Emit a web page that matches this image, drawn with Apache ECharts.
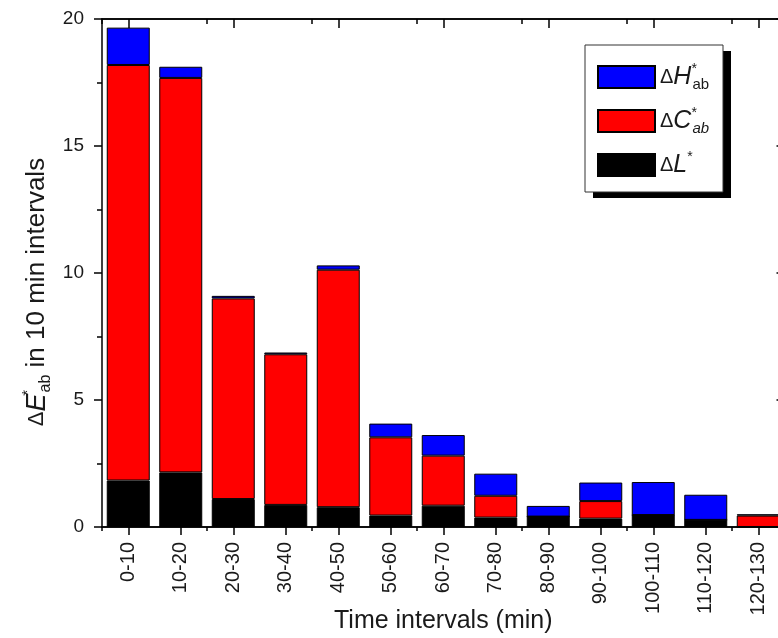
<!DOCTYPE html>
<html><head><meta charset="utf-8">
<script src="https://cdn.jsdelivr.net/npm/echarts@6/dist/echarts.min.js"></script>
<style>html,body{margin:0;padding:0;background:#fff}#c{width:778px;height:638px}</style>
</head><body><div id="c"></div>
<script>
var categories = ['0-10','10-20','20-30','30-40','40-50','50-60','60-70','70-80','80-90','90-100','100-110','110-120','120-130'];
var deltaL = [1.83, 2.15, 1.10, 0.87, 0.78, 0.45, 0.84, 0.37, 0.41, 0.33, 0.47, 0.28, 0.00];
var deltaC = [16.36, 15.53, 7.90, 5.93, 9.35, 3.08, 1.97, 0.86, 0.00, 0.69, 0.00, 0.00, 0.45];
var deltaH = [1.47, 0.44, 0.10, 0.07, 0.17, 0.54, 0.81, 0.87, 0.42, 0.73, 1.30, 0.99, 0.05];
var yTicks = {min: 0, max: 20, interval: 5};

var font = 'Liberation Sans, Arial, sans-serif';
var txt = '#1a1a1a';
var chart = echarts.init(document.getElementById('c'));

function xAx(pos, center, len, inside, labels) {
  return {
    type: 'category', data: categories, position: pos, boundaryGap: true,
    axisLine: {show: true, onZero: false, lineStyle: {color: '#000', width: 1.5}},
    axisTick: {show: true, alignWithLabel: center, length: len, inside: inside, lineStyle: {color: '#000', width: 1.5}},
    axisLabel: labels ? {show: true, rotate: 90, margin: 15, fontSize: 20, color: txt, fontFamily: font} : {show: false},
    name: labels ? 'Time intervals (min)' : '', nameLocation: 'middle', nameGap: 82, nameMoveOverlap: false,
    nameTextStyle: {fontSize: 25, color: txt, fontFamily: font},
    splitLine: {show: false}
  };
}
function yAx(pos, inside, labels) {
  return {
    type: 'value', position: pos, min: yTicks.min, max: yTicks.max, interval: yTicks.interval,
    axisLine: {show: true, lineStyle: {color: '#000', width: 1.5}},
    axisTick: {show: true, length: 8, inside: inside, lineStyle: {color: '#000', width: 1.5}},
    minorTick: {show: true, splitNumber: 2, length: 5, lineStyle: {color: '#000', width: 1.5}},
    axisLabel: labels ? {show: true, fontSize: 19, color: txt, fontFamily: font, margin: 18} : {show: false},
    splitLine: {show: false},
    name: labels ? '{d|Δ}{e|E}{sup|*}{sub|ab}{n| in 10 min intervals}' : '',
    nameLocation: 'middle', nameGap: 48, nameRotate: 90, nameMoveOverlap: false,
    nameTextStyle: {
      color: txt, fontFamily: font, fontSize: 26, padding: [0, 38, 0, 0],
      rich: {
        d: {fontSize: 22, fontFamily: font, color: txt, lineHeight: 34, verticalAlign: 'middle'},
        e: {fontSize: 27, fontStyle: 'italic', fontFamily: font, color: txt, lineHeight: 34, verticalAlign: 'middle'},
        sup: {fontSize: 15, fontFamily: font, color: txt, lineHeight: 34, verticalAlign: 'top', width: 1},
        sub: {fontSize: 16, fontFamily: font, color: txt, lineHeight: 34, verticalAlign: 'bottom'},
        n: {fontSize: 26, fontFamily: font, color: txt, lineHeight: 34, verticalAlign: 'middle'}
      }
    }
  };
}

var legendNames = {H: '{d|Δ}{i|H}{sup|*}{sub|ab}', C: '{d|Δ}{i|C}{sup|*}{subi|ab}', L: '{d|Δ}{i|L}{sup|*}'};

function bar(name, data, color) {
  return {
    name: name, type: 'bar', stack: 'e', data: data, barWidth: 43,
    xAxisIndex: 0, yAxisIndex: 0,
    itemStyle: {color: color, borderColor: '#000', borderWidth: 1},
    emphasis: {disabled: true}
  };
}

chart.setOption({
  animation: false,
  backgroundColor: '#fff',
  grid: {left: 102, top: 19, bottom: 111, width: 682.5, containLabel: false, outerBoundsMode: 'none'},
  xAxis: [xAx('bottom', true, 8, false, true), xAx('bottom', false, 4, false, false),
          xAx('top', true, 9, true, false), xAx('top', false, 5, true, false)],
  yAxis: [yAx('left', false, true), yAx('right', true, false)],
  graphic: [
    {type: 'rect', z: 5, shape: {x: 593, y: 51, width: 138, height: 147}, style: {fill: '#000'}},
    {type: 'rect', z: 6, shape: {x: 585, y: 45, width: 138, height: 147}, style: {fill: '#fff', stroke: '#333', lineWidth: 1}}
  ],
  legend: {
    orient: 'vertical', left: 597, top: 62, z: 10,
    data: ['H', 'C', 'L'],
    icon: 'rect',
    itemWidth: 57, itemHeight: 22, itemGap: 14, padding: 0,
    selectedMode: false,
    formatter: function (n) { return legendNames[n]; },
    textStyle: {
      color: txt, fontFamily: font, fontSize: 24,
      rich: {
        d: {fontSize: 20, fontFamily: font, color: txt, lineHeight: 30, verticalAlign: 'middle'},
        i: {fontSize: 25, fontStyle: 'italic', fontFamily: font, color: txt, lineHeight: 30, verticalAlign: 'middle'},
        sup: {fontSize: 14, fontFamily: font, color: txt, lineHeight: 30, verticalAlign: 'top', width: 1},
        sub: {fontSize: 15, fontFamily: font, color: txt, lineHeight: 30, verticalAlign: 'bottom'},
        subi: {fontSize: 15, fontStyle: 'italic', fontFamily: font, color: txt, lineHeight: 30, verticalAlign: 'bottom'}
      }
    }
  },
  series: [bar('L', deltaL, '#000000'), bar('C', deltaC, '#ff0000'), bar('H', deltaH, '#0000ff')]
});
</script></body></html>
